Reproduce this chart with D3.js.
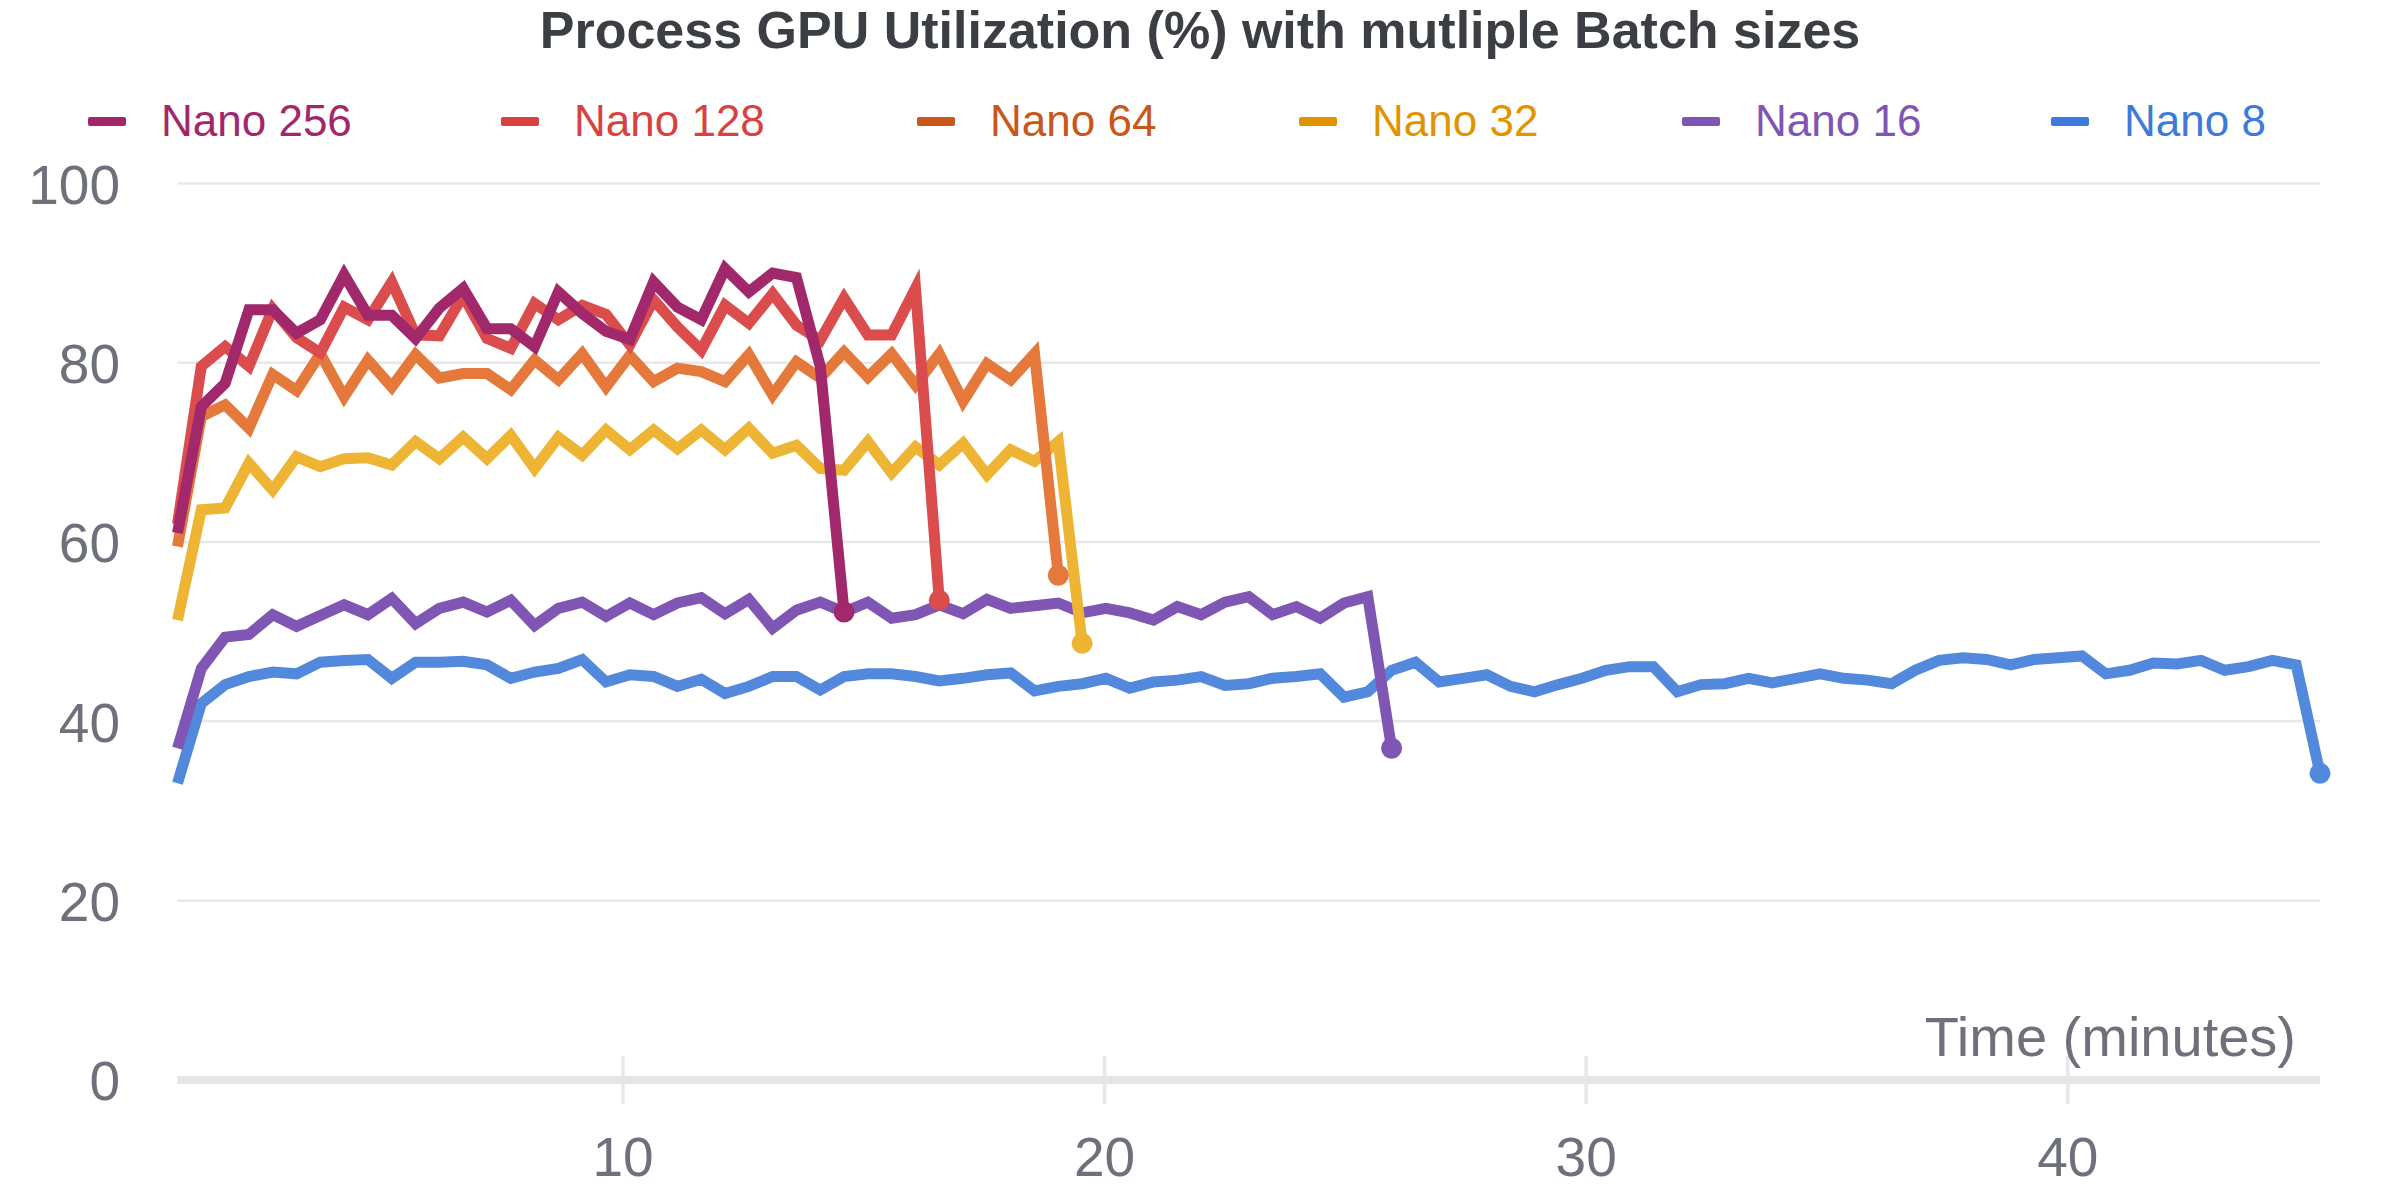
<!DOCTYPE html>
<html>
<head>
<meta charset="utf-8">
<script src="https://cdn.jsdelivr.net/npm/d3@7"></script>
<style>
  html, body { margin: 0; padding: 0; background: #ffffff; }
  svg { display: block; font-family: "Liberation Sans", Arial, Helvetica, sans-serif; }
</style>
</head>
<body>
<svg id="chart" width="2400" height="1200"></svg>
<script>
// ---------------- data ----------------
const chartTitle = "Process GPU Utilization (%) with mutliple Batch sizes";
const xAxisTitle = "Time (minutes)";
const seriesNames = ["Nano 256", "Nano 128", "Nano 64", "Nano 32", "Nano 16", "Nano 8"];

// sampling grid (minutes): first sample and interval between samples
const sampleStart = 0.76;
const sampleStep = 0.4943;

const nano256 = [61.0, 75.1, 77.7, 85.9, 85.9, 83.3, 84.8, 89.8, 85.3, 85.3,
                 82.7, 86.1, 88.3, 83.8, 83.8, 81.8, 87.9, 85.5, 83.5, 82.6,
                 89.0, 86.2, 84.8, 90.5, 87.9, 90.0, 89.5, 79.6, 52.2];

const nano128 = [62.0, 79.6, 81.8, 79.6, 86.0, 82.8, 81.1, 86.2, 84.8, 89.0,
                 83.1, 83.0, 87.5, 82.7, 81.6, 86.6, 84.8, 86.4, 85.4, 82.0,
                 87.0, 84.0, 81.4, 86.4, 84.4, 87.7, 84.2, 82.5, 87.2, 83.1,
                 83.1, 88.3, 53.5];

const nano64 = [59.5, 74.0, 75.3, 72.7, 78.7, 76.9, 81.0, 76.2, 80.3, 77.3,
                80.9, 78.3, 78.8, 78.8, 77.0, 80.3, 78.1, 81.0, 77.3, 80.8,
                77.9, 79.4, 79.0, 77.9, 80.9, 76.4, 80.1, 78.3, 81.2, 78.4,
                81.0, 77.5, 81.0, 75.7, 79.9, 78.1, 81.0, 56.3];

const nano32 = [51.3, 63.6, 63.8, 68.8, 65.8, 69.5, 68.4, 69.3, 69.4, 68.6,
                71.2, 69.3, 71.7, 69.3, 71.9, 68.2, 71.7, 69.7, 72.5, 70.3,
                72.5, 70.4, 72.5, 70.3, 72.7, 69.9, 70.8, 68.2, 68.0, 71.2,
                67.7, 70.6, 68.6, 71.0, 67.5, 70.3, 69.0, 71.2, 48.7];

const nano16 = [37.0, 45.9, 49.4, 49.7, 51.9, 50.6, 51.8, 53.0, 51.9, 53.7,
                50.9, 52.6, 53.3, 52.2, 53.5, 50.7, 52.6, 53.3, 51.7, 53.2,
                51.9, 53.2, 53.8, 52.0, 53.6, 50.4, 52.4, 53.3, 52.2, 53.3,
                51.5, 51.9, 53.0, 52.0, 53.6, 52.6, 52.9, 53.2, 52.1, 52.6,
                52.1, 51.3, 52.8, 51.9, 53.3, 53.9, 51.9, 52.8, 51.5, 53.2,
                53.9, 37.0];

const nano8 = [33.1, 42.0, 44.1, 45.0, 45.5, 45.3, 46.6, 46.8, 46.9, 44.8,
               46.6, 46.6, 46.7, 46.3, 44.8, 45.5, 45.9, 46.9, 44.4, 45.2,
               45.0, 43.9, 44.7, 43.1, 43.9, 45.0, 45.0, 43.5, 45.0, 45.3,
               45.3, 45.0, 44.5, 44.8, 45.2, 45.4, 43.4, 43.9, 44.2, 44.8,
               43.7, 44.4, 44.6, 45.0, 44.0, 44.2, 44.8, 45.0, 45.3, 42.7,
               43.3, 45.7, 46.6, 44.4, 44.8, 45.2, 43.9, 43.3, 44.1, 44.8,
               45.7, 46.1, 46.1, 43.3, 44.1, 44.2, 44.8, 44.3, 44.8, 45.3,
               44.8, 44.6, 44.2, 45.7, 46.8, 47.1, 46.9, 46.3, 46.9, 47.1,
               47.3, 45.3, 45.7, 46.5, 46.4, 46.8, 45.7, 46.1, 46.8, 46.3,
               34.2];

const seriesValues = [nano256, nano128, nano64, nano32, nano16, nano8];
const yTickValues = [0, 20, 40, 60, 80, 100];
const xTickValues = [10, 20, 30, 40];

// ---------------- styles / layout ----------------
const lineColors   = ["#a1286a", "#db4d4d", "#e5783b", "#eeb534", "#7f56b3", "#5389dd"];
const legendColors = ["#a3266a", "#d94141", "#c9561a", "#df9400", "#7f55b4", "#3d7ad9"];
const legendSlots  = [88, 501, 917, 1299, 1682, 2051];
const axisTextColor = "#6e717b";
const gridColor = "#e8e8ea";

const W = 2400, H = 1200;
const plot = { left: 177.5, right: 2320, top: 183.4, bottom: 1080 };

const svg = d3.select("#chart");

const nMax = d3.max(seriesValues, s => s.length);
const tEnd = sampleStart + (nMax - 1) * sampleStep;

const x = d3.scaleLinear().domain([sampleStart, tEnd]).range([plot.left, plot.right]);
const y = d3.scaleLinear().domain([0, 100]).range([plot.bottom, plot.top]);

// gridlines (horizontal)
svg.append("g")
  .selectAll("line")
  .data(yTickValues.filter(v => v !== 0))
  .join("line")
  .attr("x1", plot.left).attr("x2", plot.right)
  .attr("y1", d => y(d)).attr("y2", d => y(d))
  .attr("stroke", gridColor).attr("stroke-width", 2.5);

// y axis labels
const yAxis = d3.axisLeft(y).tickValues(yTickValues).tickSize(0).tickPadding(0);
const yG = svg.append("g").attr("transform", `translate(120,0)`).call(yAxis);
yG.select(".domain").remove();
yG.selectAll("text")
  .attr("fill", axisTextColor)
  .attr("font-size", 55)
  .attr("font-family", '"Liberation Sans", Arial, sans-serif')
  .attr("dy", "0.36em");

// x axis ticks (crossing the baseline)
const xAxis = d3.axisBottom(x).tickValues(xTickValues).tickSize(0).tickPadding(0).tickFormat(d3.format("d"));
const xG = svg.append("g").attr("transform", `translate(0,${plot.bottom})`).call(xAxis);
xG.select(".domain").remove();
xG.selectAll(".tick").append("line")
  .attr("y1", -24).attr("y2", 24)
  .attr("stroke", gridColor).attr("stroke-width", 3.5);
xG.selectAll("text")
  .attr("fill", axisTextColor)
  .attr("font-size", 55)
  .attr("font-family", '"Liberation Sans", Arial, sans-serif')
  .attr("y", 96)
  .attr("dy", 0);

// baseline
svg.append("line")
  .attr("x1", plot.left).attr("x2", plot.right)
  .attr("y1", y(0)).attr("y2", y(0))
  .attr("stroke", "#e6e6e8").attr("stroke-width", 8);

// x axis title
svg.append("text")
  .attr("x", 2296).attr("y", 1056)
  .attr("text-anchor", "end")
  .attr("fill", axisTextColor)
  .attr("font-size", 56)
  .text(xAxisTitle);

// lines (first series drawn on top)
const line = d3.line()
  .x((d, i) => x(sampleStart + i * sampleStep))
  .y(d => y(d));

const order = d3.range(seriesValues.length).reverse();
const lg = svg.append("g");
order.forEach(k => {
  const vals = seriesValues[k];
  lg.append("path")
    .datum(vals)
    .attr("d", line)
    .attr("fill", "none")
    .attr("stroke", lineColors[k])
    .attr("stroke-width", 11)
    .attr("stroke-linejoin", "miter")
    .attr("stroke-miterlimit", 10);
  const last = vals.length - 1;
  lg.append("circle")
    .attr("cx", x(sampleStart + last * sampleStep))
    .attr("cy", y(vals[last]))
    .attr("r", 10.5)
    .attr("fill", lineColors[k]);
});

// title
svg.append("text")
  .attr("x", W / 2).attr("y", 48)
  .attr("text-anchor", "middle")
  .attr("font-weight", "bold")
  .attr("font-size", 52)
  .attr("fill", "#3b3e43")
  .text(chartTitle);

// legend
const legend = svg.append("g");
seriesNames.forEach((name, k) => {
  const gx = legendSlots[k];
  legend.append("rect")
    .attr("x", gx).attr("y", 117)
    .attr("width", 38).attr("height", 9)
    .attr("rx", 2)
    .attr("fill", legendColors[k]);
  legend.append("text")
    .attr("x", gx + 73).attr("y", 136)
    .attr("font-size", 44)
    .attr("fill", legendColors[k])
    .text(name);
});
</script>
</body>
</html>
